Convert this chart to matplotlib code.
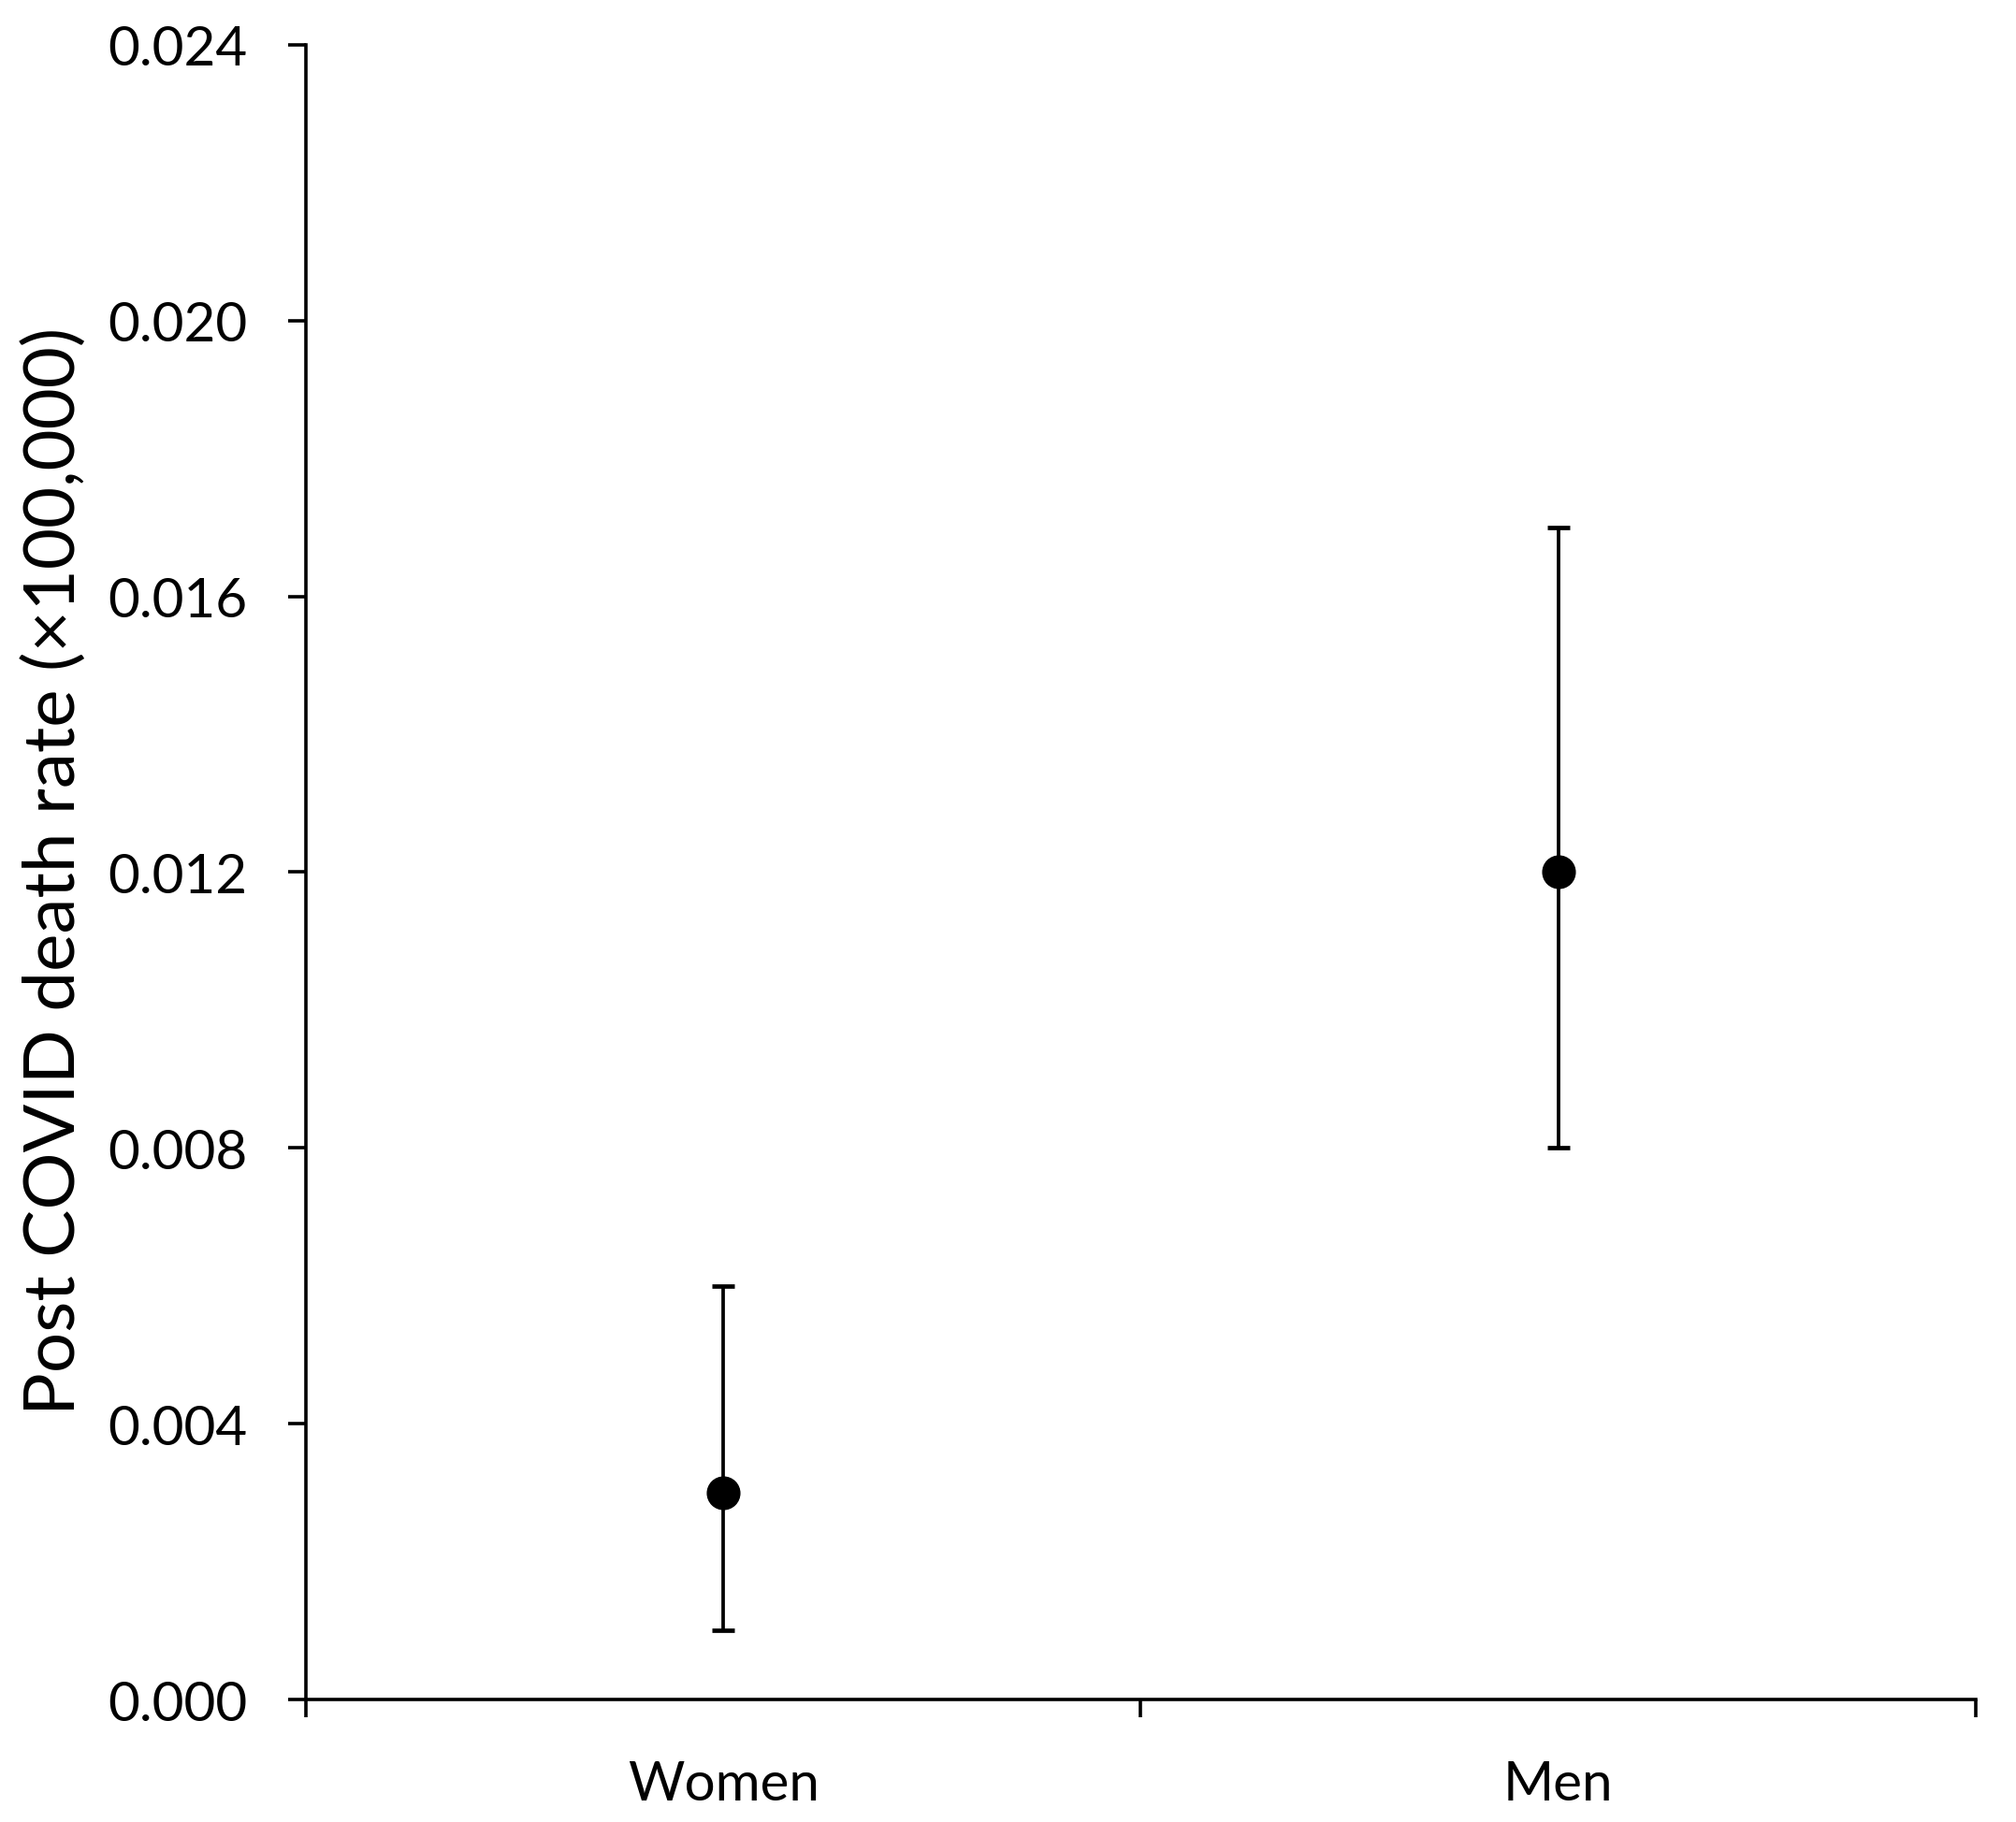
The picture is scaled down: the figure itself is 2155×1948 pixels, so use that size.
import matplotlib
matplotlib.use('Agg')
import matplotlib.pyplot as plt

# data
groups = ['Women', 'Men']
rate = [0.003, 0.012]
ci_low = [0.001, 0.008]
ci_high = [0.006, 0.017]
y_ticks = [0.000, 0.004, 0.008, 0.012, 0.016, 0.020, 0.024]

plt.rcParams['font.family'] = ['Lato', 'DejaVu Sans']

fig = plt.figure(figsize=(21.55, 19.49), dpi=100)
ax = fig.add_axes([0.1517, 0.0672, 0.8283, 0.9077])

xpos = [i + 0.5 for i in range(len(groups))]
err = [[r - lo for r, lo in zip(rate, ci_low)],
       [hi - r for r, hi in zip(rate, ci_high)]]
ax.errorbar(xpos, rate, yerr=err, fmt='o', color='black', markersize=25,
            elinewidth=2.7, capsize=8.3, capthick=3.4, zorder=3)

ax.set_xlim(0, len(groups))
ax.set_ylim(0, 0.024)
ax.set_yticks(y_ticks)
ax.set_yticklabels([f'{v:.3f}' for v in y_ticks])

# Excel style category axis: ticks between categories, labels in the middle
ax.set_xticks(range(len(groups) + 1))
ax.set_xticklabels([])
ax.set_xticks(xpos, minor=True)
ax.set_xticklabels(groups, minor=True)

for side in ['top', 'right']:
    ax.spines[side].set_visible(False)
for side in ['left', 'bottom']:
    ax.spines[side].set_linewidth(2.6)

ax.tick_params(axis='y', which='major', direction='out', length=13.7, width=2.6,
               labelsize=42, pad=31)
ax.tick_params(axis='x', which='major', direction='out', length=14, width=2.6)
ax.tick_params(axis='x', which='minor', length=0, labelsize=42, pad=46)

fig.text(58 / 2155, 0.522, 'Post COVID death rate (×100,000)', rotation=90,
         ha='center', va='center', fontsize=55)

fig.savefig('out.png', dpi=100, facecolor='white')
